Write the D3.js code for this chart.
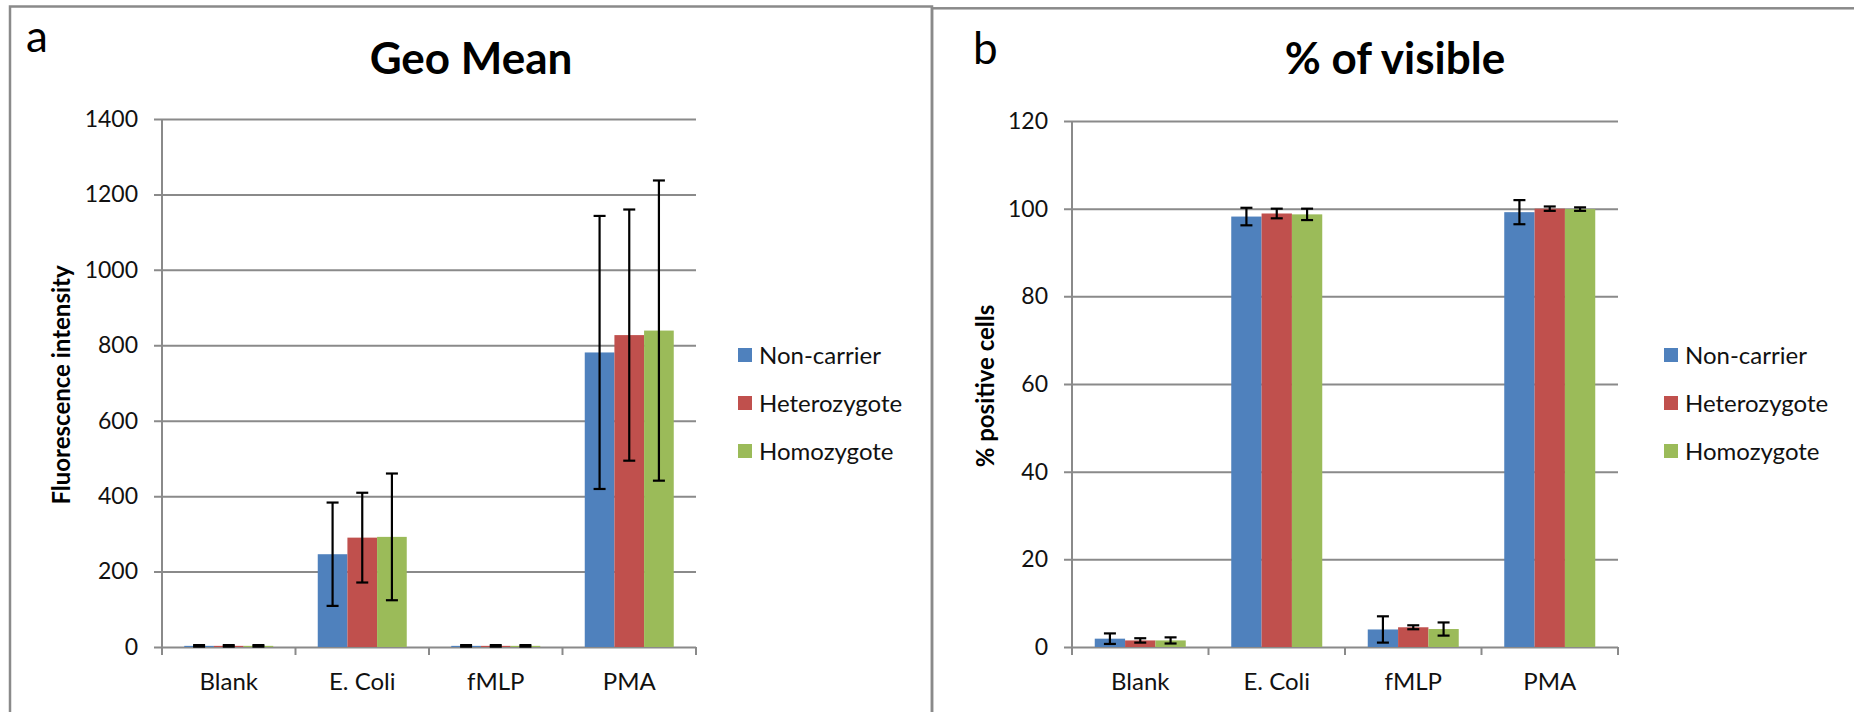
<!DOCTYPE html>
<html>
<head>
<meta charset="utf-8">
<script src="https://cdn.jsdelivr.net/npm/d3@7"></script>
<style>
  html, body { margin: 0; padding: 0; background: #fff; }
  svg { display: block; font-family: Lato, "Open Sans", sans-serif; }
</style>
</head>
<body>
<svg id="chart" width="1854" height="712"></svg>
<script>
// Categories and groups shared by both panels
const categories = ["Blank", "E. Coli", "fMLP", "PMA"];
const series = ["Non-carrier", "Heterozygote", "Homozygote"];
const seriesColors = ["#4F81BD", "#C0504D", "#9BBB59"];

// Panel a: geometric mean fluorescence intensity
const geoNonCarrier = [3, 246, 3, 781];
const geoHeterozygote = [3, 290, 3, 827];
const geoHomozygote = [3, 292, 3, 839];
const geoNonCarrierErr = [2, 137, 2, 362];
const geoHeterozygoteErr = [2, 119, 2, 333];
const geoHomozygoteErr = [2, 168, 2, 398];
const geoTicks = [0, 200, 400, 600, 800, 1000, 1200, 1400];

// Panel b: percentage of positive cells
const visNonCarrier = [1.9, 98.2, 4.0, 99.2];
const visHeterozygote = [1.5, 98.9, 4.5, 100.0];
const visHomozygote = [1.5, 98.7, 4.1, 99.9];
const visNonCarrierErr = [1.2, 2.0, 3.0, 2.75];
const visHeterozygoteErr = [0.5, 1.1, 0.45, 0.5];
const visHomozygoteErr = [0.7, 1.3, 1.5, 0.4];
const visTicks = [0, 20, 40, 60, 80, 100, 120];

const panels = [
  {
    letter: "a", title: "Geo Mean", yTitle: "Fluorescence intensity",
    values: [geoNonCarrier, geoHeterozygote, geoHomozygote],
    errors: [geoNonCarrierErr, geoHeterozygoteErr, geoHomozygoteErr],
    ticks: geoTicks,
    frame: { x: 10, y: 6.5, w: 922, h: 720 },
    letterPos: [26, 52],
    plot: { left: 162, right: 696, top: 119, bottom: 647 },
    titleX: 471, yTitleX: 62, legendX: 738
  },
  {
    letter: "b", title: "% of visible", yTitle: "% positive cells",
    values: [visNonCarrier, visHeterozygote, visHomozygote],
    errors: [visNonCarrierErr, visHeterozygoteErr, visHomozygoteErr],
    ticks: visTicks,
    frame: { x: 932, y: 8.3, w: 940, h: 720 },
    letterPos: [973, 64],
    plot: { left: 1072, right: 1618, top: 121, bottom: 647 },
    titleX: 1395, yTitleX: 986, legendX: 1664
  }
];

const svg = d3.select("#chart");
const gridColor = "#8A8A8A";
const textColor = "#111";

panels.forEach(p => {
  const g = svg.append("g");

  // panel frame
  g.append("rect")
    .attr("x", p.frame.x).attr("y", p.frame.y)
    .attr("width", p.frame.w).attr("height", p.frame.h)
    .attr("fill", "none").attr("stroke", gridColor).attr("stroke-width", 2.5);

  g.append("text")
    .attr("x", p.letterPos[0]).attr("y", p.letterPos[1])
    .attr("font-size", 44).attr("fill", "#000")
    .text(p.letter);

  g.append("text")
    .attr("x", p.titleX).attr("y", 74)
    .attr("text-anchor", "middle")
    .attr("font-size", 44).attr("font-weight", 700).attr("fill", "#000")
    .text(p.title);

  const { left, right, top, bottom } = p.plot;
  const width = right - left;

  const y = d3.scaleLinear()
    .domain([0, p.ticks[p.ticks.length - 1]])
    .range([bottom, top]);

  const x0 = d3.scaleBand().domain(categories).range([left, right]).padding(0);
  // gap between groups is 150% of a bar width
  const barW = x0.bandwidth() / (series.length + 1.5);
  const gap = barW * 1.5;
  const x1 = d3.scaleBand().domain(series)
    .range([gap / 2, x0.bandwidth() - gap / 2]).padding(0);

  // gridlines with tick marks and labels
  const yAxis = d3.axisLeft(y)
    .tickValues(p.ticks)
    .tickSize(-(width + 8))
    .tickPadding(16)
    .tickFormat(d3.format("d"));
  const ya = g.append("g")
    .attr("transform", `translate(${left - 8},0)`)
    .call(yAxis);
  ya.select(".domain").remove();
  ya.selectAll(".tick line").attr("stroke", gridColor).attr("stroke-width", 2);
  ya.selectAll(".tick text")
    .attr("font-size", 23).attr("fill", textColor)
    .attr("font-family", "Lato, 'Open Sans', sans-serif");

  // vertical axis line
  g.append("line")
    .attr("x1", left).attr("x2", left)
    .attr("y1", top).attr("y2", bottom + 8)
    .attr("stroke", gridColor).attr("stroke-width", 2);

  // category boundary ticks
  const bounds = categories.map(c => x0(c)).concat([right]);
  g.selectAll(".btick").data(bounds).join("line")
    .attr("class", "btick")
    .attr("x1", d => d).attr("x2", d => d)
    .attr("y1", bottom).attr("y2", bottom + 8)
    .attr("stroke", gridColor).attr("stroke-width", 2);

  // category labels
  const xAxis = d3.axisBottom(x0).tickSize(0).tickPadding(0);
  const xa = g.append("g")
    .attr("transform", `translate(0,${bottom})`)
    .call(xAxis);
  xa.select(".domain").remove();
  xa.selectAll(".tick text")
    .attr("y", 43).attr("dy", 0)
    .attr("font-size", 24).attr("fill", textColor)
    .attr("font-family", "Lato, 'Open Sans', sans-serif");

  // y axis title
  g.append("text")
    .attr("transform", `translate(${p.yTitleX},${(top + bottom) / 2 + 2}) rotate(-90)`)
    .attr("text-anchor", "middle").attr("dy", "0.35em")
    .attr("font-size", 24).attr("font-weight", 700).attr("fill", "#000")
    .text(p.yTitle);

  // bars and error bars
  series.forEach((s, si) => {
    const rows = categories.map((c, ci) => ({
      c, v: p.values[si][ci], e: p.errors[si][ci]
    }));
    const sg = g.append("g");
    sg.selectAll("rect").data(rows).join("rect")
      .attr("x", d => x0(d.c) + x1(s))
      .attr("y", d => y(d.v))
      .attr("width", x1.bandwidth())
      .attr("height", d => y(0) - y(d.v))
      .attr("fill", seriesColors[si]);

    const cx = d => x0(d.c) + x1(s) + x1.bandwidth() / 2;
    const eg = sg.selectAll(".err").data(rows).join("g").attr("class", "err")
      .attr("stroke", "#000").attr("stroke-width", 2.2);
    eg.append("line")
      .attr("x1", cx).attr("x2", cx)
      .attr("y1", d => y(d.v + d.e)).attr("y2", d => y(Math.max(0, d.v - d.e)));
    eg.append("line")
      .attr("x1", d => cx(d) - 6).attr("x2", d => cx(d) + 6)
      .attr("y1", d => y(d.v + d.e)).attr("y2", d => y(d.v + d.e));
    eg.append("line")
      .attr("x1", d => cx(d) - 6).attr("x2", d => cx(d) + 6)
      .attr("y1", d => y(Math.max(0, d.v - d.e))).attr("y2", d => y(Math.max(0, d.v - d.e)));
  });

  // legend
  const lg = g.append("g");
  const rowY = [355, 403, 451];
  series.forEach((s, si) => {
    lg.append("rect")
      .attr("x", p.legendX).attr("y", rowY[si] - 7)
      .attr("width", 14).attr("height", 14)
      .attr("fill", seriesColors[si]);
    lg.append("text")
      .attr("x", p.legendX + 21).attr("y", rowY[si])
      .attr("dy", "0.36em")
      .attr("font-size", 24).attr("fill", textColor)
      .text(s);
  });
});
</script>
</body>
</html>
